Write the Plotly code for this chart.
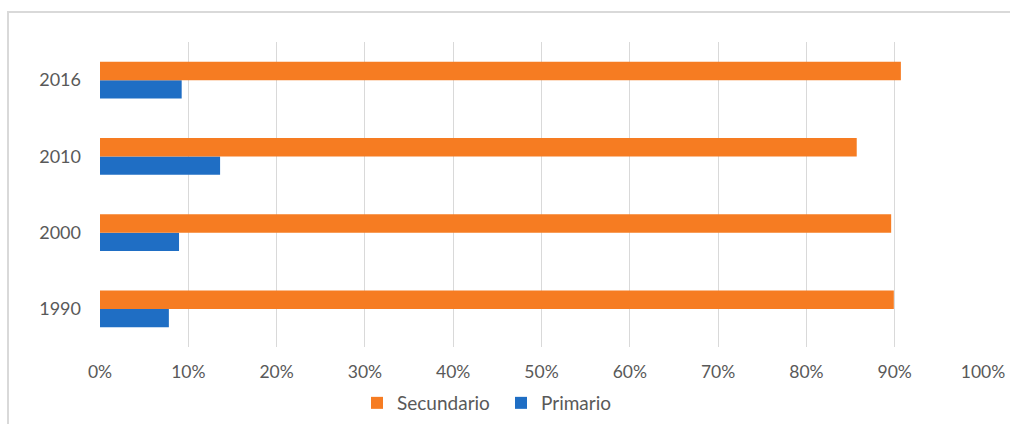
import plotly.graph_objects as go

# Share of enrollment by level, per year
years = ["1990", "2000", "2010", "2016"]
secundario = [89.9, 89.6, 85.7, 90.7]
primario = [7.8, 8.95, 13.6, 9.25]
x_ticks = list(range(0, 101, 10))
x_tick_labels = [f"{v}%" for v in x_ticks]

W, H = 1010, 424
ML, MR, MT, MB = 100, 27, 42, 77
PW, PH = W - ML - MR, H - MT - MB

FONT = "Lato"
TXT = "#595959"

fig = go.Figure()
fig.add_trace(go.Bar(
    name="Primario", y=years, x=primario, orientation="h",
    marker=dict(color="#1F6EC4", line=dict(width=0)),
    legend="legend2",
))
fig.add_trace(go.Bar(
    name="Secundario", y=years, x=secundario, orientation="h",
    marker=dict(color="#F67C22", line=dict(width=0)),
    legend="legend",
))

# light frame around the chart area
fig.add_shape(
    type="rect", xref="paper", yref="paper",
    x0=(8 - ML) / PW, x1=(W + 20 - ML) / PW,
    y0=-(MB + 20) / PH, y1=(H - MB - 12) / PH,
    line=dict(color="#D9D9D9", width=2), fillcolor="rgba(0,0,0,0)",
    layer="below",
)

legend_y = -(403 - (MT + PH)) / PH
legend_common = dict(
    orientation="h", xanchor="left", y=legend_y, yanchor="middle",
    font=dict(family=FONT, size=19, color=TXT),
    itemwidth=30, bgcolor="rgba(0,0,0,0)",
)

fig.update_layout(
    width=W, height=H,
    margin=dict(l=ML, r=MR, t=MT, b=MB, autoexpand=False),
    paper_bgcolor="white", plot_bgcolor="white",
    barmode="group", bargap=0.52, bargroupgap=0,
    font=dict(family=FONT, size=17, color=TXT),
    showlegend=True,
    legend=dict(x=(357 - ML) / PW, **legend_common),
    legend2=dict(x=(501 - ML) / PW, **legend_common),
    xaxis=dict(
        range=[0, 100], tickvals=x_ticks, ticktext=x_tick_labels,
        showgrid=True, gridcolor="#D9D9D9", gridwidth=1,
        zeroline=False, showline=False, ticks="",
        ticklabelstandoff=12,
        tickfont=dict(family=FONT, size=17.5, color=TXT),
        fixedrange=True,
    ),
    yaxis=dict(
        categoryorder="array", categoryarray=years,
        showgrid=False, zeroline=False, showline=False, ticks="",
        ticklabelstandoff=18,
        tickfont=dict(family=FONT, size=18, color=TXT),
        fixedrange=True,
    ),
)

fig.write_html("out.html")
